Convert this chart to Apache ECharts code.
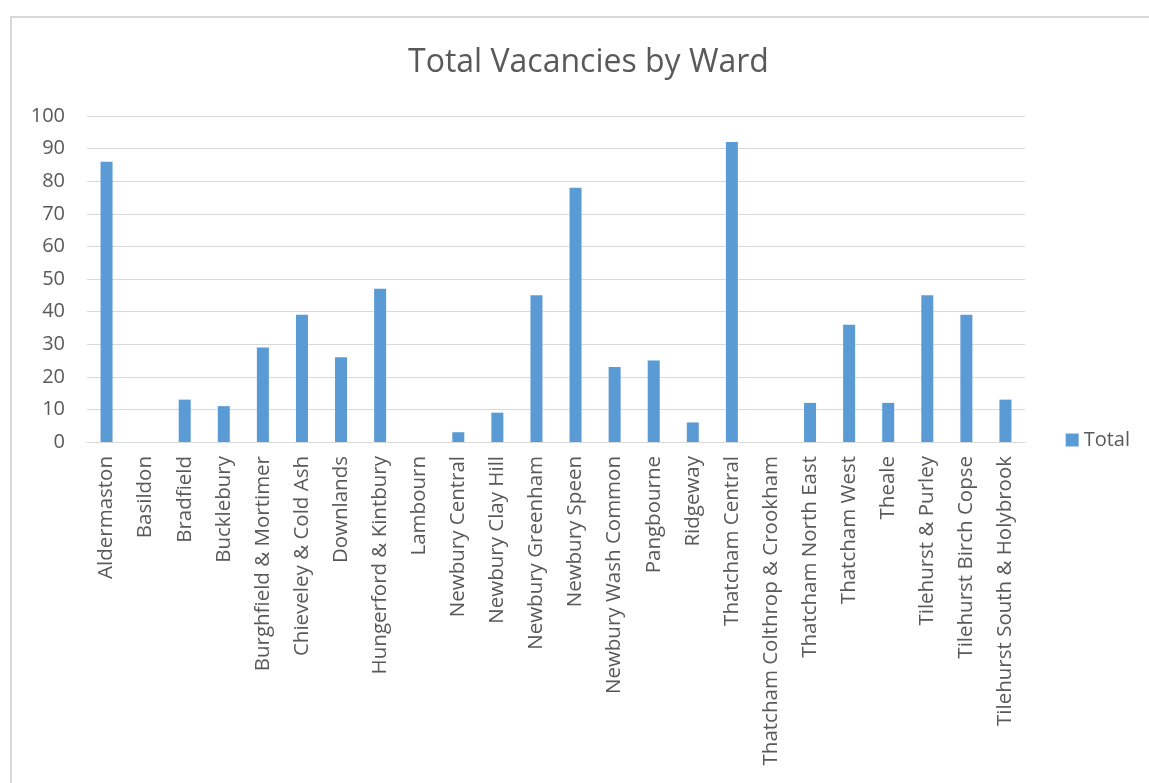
<!DOCTYPE html>
<html>
<head>
<meta charset="utf-8">
<script src="https://cdn.jsdelivr.net/npm/echarts@6/dist/echarts.min.js"></script>
<style>
    html, body { margin: 0; padding: 0; background: #fff; }
    #frame {
        position: absolute; left: 10px; top: 16px; width: 1200px; height: 800px;
        border-top: 2px solid #d9d9d9; border-left: 2px solid #d9d9d9;
    }
    #chart { position: absolute; left: 0; top: 0; width: 1149px; height: 783px; }
</style>
</head>
<body>
<div id="frame"></div>
<div id="chart"></div>
<script>
// wards on the x axis
const wards = [
    'Aldermaston', 'Basildon', 'Bradfield', 'Bucklebury', 'Burghfield & Mortimer',
    'Chieveley & Cold Ash', 'Downlands', 'Hungerford & Kintbury', 'Lambourn',
    'Newbury Central', 'Newbury Clay Hill', 'Newbury Greenham', 'Newbury Speen',
    'Newbury Wash Common', 'Pangbourne', 'Ridgeway', 'Thatcham Central',
    'Thatcham Colthrop & Crookham', 'Thatcham North East', 'Thatcham West', 'Theale',
    'Tilehurst & Purley', 'Tilehurst Birch Copse', 'Tilehurst South & Holybrook'
]
// total vacancies
const totals = [86, 0, 13, 11, 29, 39, 26, 47, 0, 3, 9, 45, 78, 23, 25, 6, 92, 0, 12, 36, 12, 45, 39, 13]
const yMin = 0
const yMax = 100
const yStep = 10

const textColor = '#595959'
const font = 'Open Sans'

let chart = echarts.init(document.getElementById('chart'))
let option = {
    animation: false,
    title: {
        text: 'Total Vacancies by Ward',
        left: 403,
        top: 42,
        textStyle: {
            color: textColor,
            fontFamily: font,
            fontWeight: 'normal',
            fontSize: 32
        }
    },
    legend: {
        data: ['Total'],
        right: 14,
        top: 425,
        itemWidth: 13,
        itemHeight: 13,
        itemGap: 6,
        icon: 'rect',
        textStyle: { color: textColor, fontFamily: font, fontSize: 20 }
    },
    grid: {
        left: 87,
        right: 124,
        top: 116,
        bottom: 341
    },
    xAxis: {
        type: 'category',
        data: wards,
        axisTick: { show: false },
        axisLine: { lineStyle: { color: '#d9d9d9', width: 1 } },
        axisLabel: {
            rotate: 90,
            interval: 0,
            margin: 14,
            color: textColor,
            fontFamily: font,
            fontSize: 20.5
        }
    },
    yAxis: {
        type: 'value',
        min: yMin,
        max: yMax,
        interval: yStep,
        axisLine: { show: false },
        axisTick: { show: false },
        axisLabel: {
            margin: 22,
            color: textColor,
            fontFamily: font,
            fontSize: 20
        },
        splitLine: { lineStyle: { color: '#d9d9d9', width: 1 } }
    },
    series: [{
        name: 'Total',
        type: 'bar',
        data: totals,
        barWidth: 12,
        itemStyle: { color: '#5b9bd5' }
    }]
}
chart.setOption(option)
</script>
</body>
</html>
